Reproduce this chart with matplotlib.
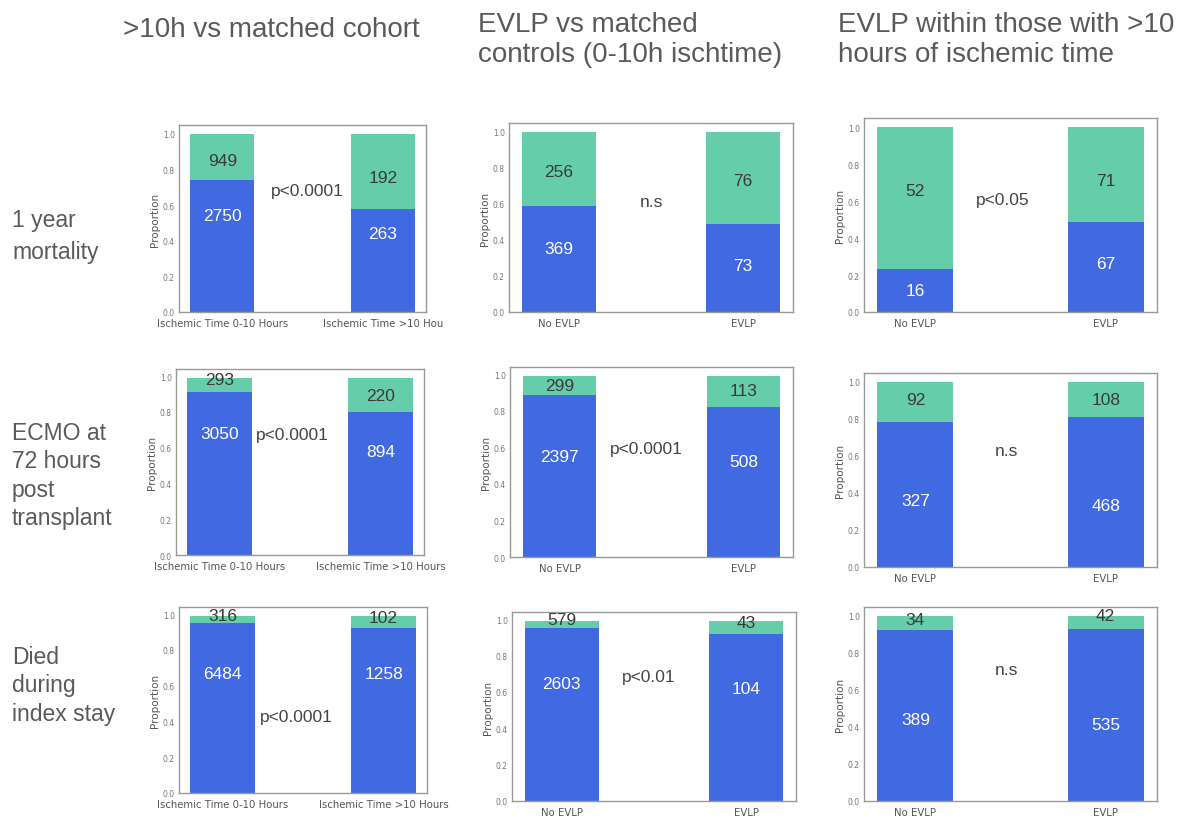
import matplotlib
matplotlib.use("Agg")
import matplotlib.pyplot as plt

# ---- data ----
col_titles = [">10h vs matched cohort",
              "EVLP vs matched\ncontrols (0-10h ischtime)",
              "EVLP within those with >10\nhours of ischemic time"]
row_titles = ["1 year\nmortality",
              "ECMO at\n72 hours\npost\ntransplant",
              "Died\nduring\nindex stay"]

ischemic_groups = ["Ischemic Time 0-10 Hours", "Ischemic Time >10 Hours"]
ischemic_groups_cut = ["Ischemic Time 0-10 Hours", "Ischemic Time >10 Hou"]
evlp_groups = ["No EVLP", "EVLP"]

# proportion of the blue (lower) segment, per row / column / bar
blue_prop = [[(0.74, 0.58), (0.59, 0.49), (0.235, 0.485)],
             [(0.91, 0.80), (0.889, 0.818), (0.779, 0.806)],
             [(0.948, 0.92), (0.952, 0.92), (0.922, 0.927)]]
# top of the stacked bar
total_prop = [[(1.0, 1.0), (1.0, 1.0), (1.0, 1.0)],
              [(0.99, 0.99), (0.99, 0.99), (0.995, 0.995)],
              [(0.99, 0.99), (0.99, 0.99), (0.995, 0.995)]]

blue_n = [[(2750, 263), (369, 73), (16, 67)],
          [(3050, 894), (2397, 508), (327, 468)],
          [(6484, 1258), (2603, 104), (389, 535)]]
green_n = [[(949, 192), (256, 76), (52, 71)],
           [(293, 220), (299, 113), (92, 108)],
           [(316, 102), (579, 43), (34, 42)]]

pvals = [["p<0.0001", "n.s", "p<0.05"],
         ["p<0.0001", "p<0.0001", "n.s"],
         ["p<0.0001", "p<0.01", "n.s"]]

# ---- layout (pixels on a 1187x820 canvas) ----
W, H = 1187, 820
axes_px = [[(179, 426, 126, 313), (509, 793, 124, 313), (864, 1157, 119, 313)],
           [(176, 424, 370, 556), (510, 793, 368, 558), (864, 1157, 374, 568)],
           [(179, 427, 608, 794), (512, 796, 613, 802), (864, 1157, 608, 802)]]

# where the slide put the count labels (y in data units)
green_label_y = [[(0.85, 0.755), (0.78, 0.73), (0.66, 0.71)],
                 [(0.98, 0.89), (0.94, 0.91), (0.90, 0.90)],
                 [(0.99, 0.98), (1.0, 0.98), (0.98, 1.0)]]
blue_label_y = [[(0.54, 0.44), (0.35, 0.26), (0.115, 0.26)],
                [(0.68, 0.58), (0.55, 0.52), (0.36, 0.33)],
                [(0.67, 0.67), (0.645, 0.62), (0.44, 0.41)]]
pval_xy = [[(0.53, 0.68), (0.505, 0.615), (0.46, 0.61)],
           [(0.45, 0.676), (0.47, 0.594), (0.48, 0.63)],
           [(0.46, 0.43), (0.47, 0.685), (0.48, 0.71)]]

BLUE = "#4169e1"
GREEN = "#66cdaa"
TEXT = "#5a5a5a"
SLIDE_FONT = ["Liberation Sans", "DejaVu Sans"]

fig = plt.figure(figsize=(W / 100, H / 100), dpi=100)
fig.patch.set_facecolor("white")


def px_rect(l, r, t, b):
    return [l / W, 1 - b / H, (r - l) / W, (b - t) / H]


for i in range(3):
    for j in range(3):
        ax = fig.add_axes(px_rect(*axes_px[i][j]))
        if j == 0:
            groups = ischemic_groups_cut if i == 0 else ischemic_groups
        else:
            groups = evlp_groups
        x = [0, 1]
        blue = blue_prop[i][j]
        green = [t - b for t, b in zip(total_prop[i][j], blue)]
        ax.bar(x, blue, width=0.4, color=BLUE)
        ax.bar(x, green, width=0.4, bottom=blue, color=GREEN)

        for k in range(2):
            ax.text(x[k], blue_label_y[i][j][k], str(blue_n[i][j][k]),
                    ha="center", va="center", color="white",
                    fontsize=12.5, family=SLIDE_FONT)
            ax.text(x[k], green_label_y[i][j][k], str(green_n[i][j][k]),
                    ha="center", va="center", color="#3a3a3a",
                    fontsize=12.5, family=SLIDE_FONT)
        px, py = pval_xy[i][j]
        ax.text(px, py, pvals[i][j], ha="center", va="center",
                color="#444444", fontsize=12.5, family=SLIDE_FONT)

        ax.set_xticks(x)
        ax.set_xticklabels(groups, fontsize=7.3, color="#555555")
        ax.set_yticks([0, 0.2, 0.4, 0.6, 0.8, 1.0])
        ax.set_yticklabels(["0.0", "0.2", "0.4", "0.6", "0.8", "1.0"],
                           fontsize=5.5, color="#777777")
        ax.tick_params(axis="x", length=0, pad=4)
        ax.tick_params(axis="y", length=0, pad=3)
        ax.set_ylabel("Proportion", fontsize=7.5, color="#555555", labelpad=2)
        for s in ax.spines.values():
            s.set_color("#999999")
            s.set_linewidth(1.0)

# column titles
title_x = [123, 478, 838]
title_y = [30, 40, 40]
for j, t in enumerate(col_titles):
    fig.text(title_x[j] / W, 1 - title_y[j] / H, t, ha="left", va="center",
             fontsize=20, color=TEXT, family=SLIDE_FONT, linespacing=1.25)

# row titles
row_y = [236, 476, 686]
row_spacing = [1.5, 1.3, 1.3]
for i, t in enumerate(row_titles):
    fig.text(12 / W, 1 - row_y[i] / H, t, ha="left", va="center",
             fontsize=16.5, color=TEXT, family=SLIDE_FONT,
             linespacing=row_spacing[i])

fig.savefig("out.png", dpi=100)
